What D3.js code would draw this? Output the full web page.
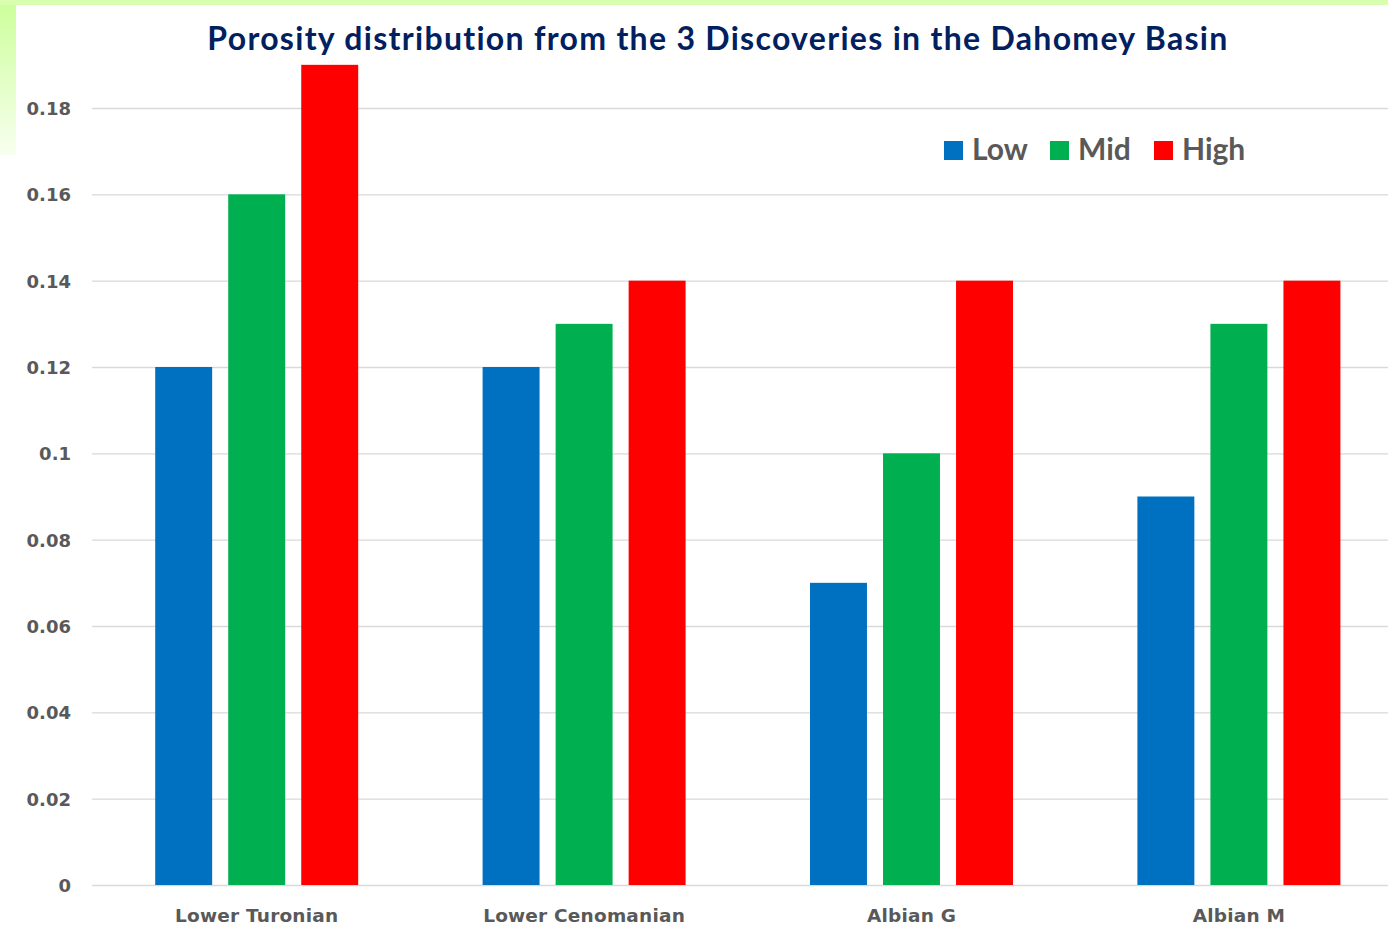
<!DOCTYPE html>
<html>
<head>
<meta charset="utf-8">
<script src="https://cdn.jsdelivr.net/npm/d3@7"></script>
<style>
  html, body { margin: 0; padding: 0; background: #fff; }
  svg { display: block; }
</style>
</head>
<body>
<svg id="chart" width="1388" height="929"></svg>
<script>
// Porosity by reservoir interval, three cases per interval
const categories = ["Lower Turonian", "Lower Cenomanian", "Albian G", "Albian M"];
const seriesNames = ["Low", "Mid", "High"];
const lowValues  = [0.12, 0.12, 0.07, 0.09];
const midValues  = [0.16, 0.13, 0.10, 0.13];
const highValues = [0.19, 0.14, 0.14, 0.14];
const yTicks = [0, 0.02, 0.04, 0.06, 0.08, 0.1, 0.12, 0.14, 0.16, 0.18];
const yTickLabels = ["0", "0.02", "0.04", "0.06", "0.08", "0.1", "0.12", "0.14", "0.16", "0.18"];
const seriesColors = ["#0070C0", "#00B050", "#FF0000"];
const titleText = "Porosity distribution from the 3 Discoveries in the Dahomey Basin";

const seriesValues = [lowValues, midValues, highValues];
const rows = categories.map((c, i) => ({
  category: c,
  values: seriesNames.map((s, j) => ({ series: s, value: seriesValues[j][i] }))
}));

const svg = d3.select("#chart");
const W = 1388, H = 929;

// slide backdrop: green strip along top, fading strip on the left
const defs = svg.append("defs");
const grad = defs.append("linearGradient")
  .attr("id", "leftFade").attr("x1", 0).attr("y1", 0).attr("x2", 0).attr("y2", 1);
grad.append("stop").attr("offset", "0%").attr("stop-color", "#ccff99");
grad.append("stop").attr("offset", "100%").attr("stop-color", "#f8fff0");
svg.append("rect").attr("x", 0).attr("y", 0).attr("width", W).attr("height", H).attr("fill", "#fff");
svg.append("rect").attr("x", 0).attr("y", 0).attr("width", 16).attr("height", 155).attr("fill", "url(#leftFade)");
svg.append("rect").attr("x", 0).attr("y", 0).attr("width", W).attr("height", 5).attr("fill", "#d8ffb0");

const plotLeft = 92;
const y = d3.scaleLinear().domain([0, 0.18]).range([885, 108]);
const x0 = d3.scaleBand().domain(categories).range([plotLeft + 1, plotLeft + 1 + 4 * 327.4]).padding(0);
const x1 = d3.scaleBand().domain(seriesNames).range([-101.5, 101.5]).paddingInner(0.22).paddingOuter(0);
const color = d3.scaleOrdinal().domain(seriesNames).range(seriesColors);

// gridlines
const yAxis = d3.axisLeft(y)
  .tickValues(yTicks)
  .tickSize(-(W - plotLeft))
  .tickFormat((d, i) => yTickLabels[i]);
const gy = svg.append("g").attr("transform", `translate(${plotLeft},0)`).call(yAxis);
gy.select(".domain").remove();
gy.selectAll(".tick line").attr("stroke", "#d9d9d9").attr("stroke-width", 1.3);
gy.selectAll(".tick text")
  .attr("x", -21)
  .attr("dy", "0.36em")
  .attr("fill", "#595959")
  .style("font-family", "'DejaVu Sans', sans-serif")
  .style("font-weight", "bold")
  .style("font-size", "18px");

// bars
const groups = svg.append("g").selectAll("g")
  .data(rows).join("g")
  .attr("transform", d => `translate(${x0(d.category) + x0.bandwidth() / 2},0)`);
groups.selectAll("rect")
  .data(d => d.values).join("rect")
  .attr("x", d => x1(d.series))
  .attr("width", x1.bandwidth())
  .attr("y", d => y(d.value))
  .attr("height", d => y(0) - y(d.value))
  .attr("fill", d => color(d.series));

// category labels
const xAxis = d3.axisBottom(x0).tickSize(0);
const gx = svg.append("g").attr("transform", `translate(0,${y(0)})`).call(xAxis);
gx.select(".domain").remove();
gx.selectAll(".tick text")
  .attr("y", 0)
  .attr("dy", "37px")
  .attr("fill", "#595959")
  .style("font-family", "'DejaVu Sans', sans-serif")
  .style("font-weight", "bold")
  .style("font-size", "18.5px")
  .style("letter-spacing", "0.2px");

// title
svg.append("text")
  .attr("x", 718).attr("y", 50)
  .attr("text-anchor", "middle")
  .attr("fill", "#002060")
  .style("font-family", "Lato, sans-serif")
  .style("font-weight", "bold")
  .style("font-size", "32px")
  .style("letter-spacing", "1.3px")
  .text(titleText);

// legend
const legendPos = [944, 1050, 1154];
const legend = svg.append("g").selectAll("g")
  .data(seriesNames).join("g")
  .attr("transform", (d, i) => `translate(${legendPos[i]},141)`);
legend.append("rect")
  .attr("width", 19).attr("height", 19)
  .attr("fill", d => color(d));
legend.append("text")
  .attr("x", 28).attr("y", 19)
  .attr("fill", "#595959")
  .style("font-family", "Lato, sans-serif")
  .style("font-weight", "bold")
  .style("font-size", "30px")
  .text(d => d);
</script>
</body>
</html>
